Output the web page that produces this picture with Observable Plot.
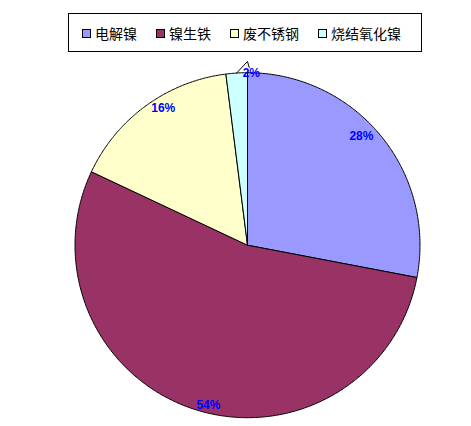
<!DOCTYPE html>
<html>
<head>
<meta charset="utf-8">
<script src="https://cdn.jsdelivr.net/npm/d3@7"></script>
<script src="https://cdn.jsdelivr.net/npm/@observablehq/plot@0.6"></script>
<style>
  html, body { margin: 0; padding: 0; background: #fff; }
  #wrap { position: relative; width: 471px; height: 426px; overflow: hidden; }
  #chart { position: absolute; left: 0; top: 0; }
  #legend {
    position: absolute; left: 68px; top: 13px; width: 354px; height: 39px;
    box-sizing: border-box; border: 1px solid #000; background: #fff;
    display: flex; align-items: center; padding-left: 13px; gap: 19px;
    font-family: "Noto Sans CJK SC", sans-serif; font-size: 14px; color: #000;
  }
  .item { display: flex; align-items: center; gap: 4px; line-height: 14px; }
  .sw { width: 9px; height: 9px; box-sizing: border-box; border: 1px solid #000; margin-top: 1px; }
</style>
</head>
<body>
<div id="wrap">
  <div id="chart"></div>
  <div id="legend"></div>
</div>
<script>
const categories = ["电解镍", "镍生铁", "废不锈钢", "烧结氧化镍"];
const values = [28, 54, 16, 2];
const colors = ["#9999FF", "#993366", "#FFFFCC", "#CCFFFF"];

const arcs = d3.pie().sort(null).value(d => d)(values);

// slice polygons in unit coordinates (angle 0 = 12 o'clock, clockwise)
const poly = [];
arcs.forEach((a, i) => {
  const cat = categories[i];
  poly.push({cat, x: 0, y: 0});
  const n = Math.max(2, Math.ceil((a.endAngle - a.startAngle) / (Math.PI / 360)));
  for (let k = 0; k <= n; k++) {
    const t = a.startAngle + (a.endAngle - a.startAngle) * k / n;
    poly.push({cat, x: Math.sin(t), y: Math.cos(t)});
  }
  poly.push({cat, x: 0, y: 0});
});

const total = d3.sum(values);
const lab = arcs.map((a, i) => {
  const m = (a.startAngle + a.endAngle) / 2;
  const pct = Math.round(values[i] / total * 100) + "%";
  const small = values[i] / total < 0.05;
  if (small) {
    const m2 = m + 0.085;
    return {cat: categories[i], text: pct, x: Math.sin(m2), y: Math.cos(m2), small, m};
  }
  const r = 0.94, s = Math.sin(m), c = Math.cos(m);
  return {cat: categories[i], text: pct,
    x: r * s - Math.sign(s) * 0.064,
    y: r * c + Math.sign(c) * 0.035, small, m};
});

// leader lines for small slices
const leaders = [];
lab.filter(d => d.small).forEach(d => {
  leaders.push({cat: d.cat, x: Math.sin(d.m), y: Math.cos(d.m)});
  leaders.push({cat: d.cat, x: 0.0, y: 1.065});
  leaders.push({cat: d.cat, x: 0.01, y: 1.03});
});

const R = 172.5, cx = 247, cy = 244.7;
const chart = Plot.plot({
  width: 471,
  height: 426,
  margin: 0,
  x: {domain: [-1, 1], range: [cx - R, cx + R], axis: null},
  y: {domain: [-1, 1], range: [cy + R, cy - R], axis: null},
  color: {domain: categories, range: colors},
  marks: [
    Plot.line(poly, {x: "x", y: "y", z: "cat", fill: "cat", stroke: "#000", strokeWidth: 1, curve: "linear"}),
    Plot.line(leaders, {x: "x", y: "y", z: "cat", stroke: "#000", strokeWidth: 1}),
    Plot.text(lab, {x: "x", y: "y", text: "text", fill: "#0000FF", fontSize: 12, fontWeight: "bold",
      fontFamily: "Liberation Sans, Arial, sans-serif"})
  ]
});
document.getElementById("chart").appendChild(chart);

const legend = document.getElementById("legend");
categories.forEach((c, i) => {
  const it = document.createElement("div");
  it.className = "item";
  const sw = document.createElement("div");
  sw.className = "sw";
  sw.style.background = colors[i];
  const tx = document.createElement("span");
  tx.textContent = c;
  it.appendChild(sw);
  it.appendChild(tx);
  legend.appendChild(it);
});
</script>
</body>
</html>
